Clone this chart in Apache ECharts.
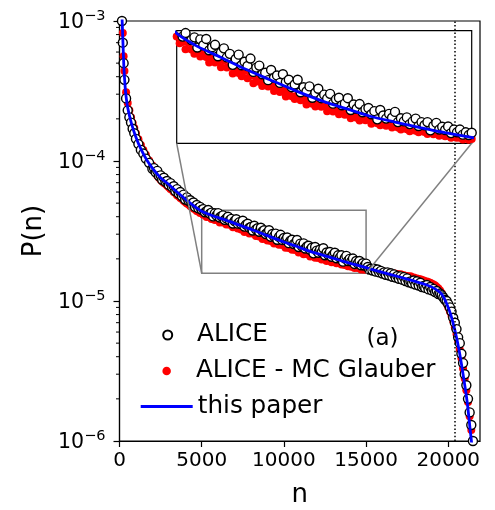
<!DOCTYPE html>
<html>
<head>
<meta charset="utf-8">
<script src="https://cdn.jsdelivr.net/npm/echarts@6/dist/echarts.min.js"></script>
<style>
html,body{margin:0;padding:0;background:#fff;}
#c{width:495px;height:510px;}
</style>
</head>
<body>
<div id="c"></div>
<script>
// ---------- data ----------
const nBins = [100,150,200,250,300,400,500,600,700,800,900,1000,1150,1300,1450,1600,1800,2000,
2100,2200,2300,2400,2500,2600,2700,2800,2900,3000,3100,3200,3300,3400,3500,3600,3700,3800,3900,4000,4100,4200,4300,4400,4500,4600,4700,4800,4900,
5000,5100,5200,5300,5400,5500,5600,5700,5800,5900,6000,6100,6200,6300,6400,6500,6600,6700,6800,6900,
7000,7100,7200,7300,7400,7500,7600,7700,7800,7900,8000,8100,8200,8300,8400,8500,8600,8700,8800,8900,
9000,9100,9200,9300,9400,9500,9600,9700,9800,9900,10000,10100,10200,10300,10400,10500,10600,10700,10800,10900,
11000,11100,11200,11300,11400,11500,11600,11700,11800,11900,12000,12100,12200,12300,12400,12500,12600,12700,12800,12900,
13000,13100,13200,13300,13400,13500,13600,13700,13800,13900,14000,14100,14200,14300,14400,14500,14600,14700,14800,14900,15000,
15100,15200,15300,15400,15500,15600,15700,15800,15900,16000,16100,16200,16300,16400,16500,16600,16700,16800,16900,17000,
17100,17200,17300,17400,17500,17600,17700,17800,17900,18000,18100,18200,18300,18400,18500,18600,18700,18800,18900,19000,
19100,19200,19300,19400,19500,19600,19700,19800,19900,20000,20100,20200,20300,20400,20500,20600,20700,20800,20900,21000,21100,21200,21300,21400,21500,21600,21700];

const aliceP = [1.5e-3,1.0e-3,7.0e-4,5.0e-4,3.8e-4,2.8e-4,2.3e-4,2.05e-4,1.88e-4,1.7e-4,1.58e-4,1.44e-4,1.32e-4,1.2e-4,1.13e-4,1.04e-4,9.7e-5,8.8e-5,
8.9e-5,8.3e-5,8.5e-5,7.8e-5,7.9e-5,7.35e-5,7.6e-5,7.1e-5,7.2e-5,6.75e-5,6.95e-5,6.5e-5,6.6e-5,6.1e-5,6.3e-5,5.85e-5,6.0e-5,5.6e-5,5.75e-5,5.3e-5,5.5e-5,5.2e-5,5.25e-5,4.95e-5,5.05e-5,4.7e-5,4.85e-5,4.6e-5,4.7e-5,
4.48e-5,4.53e-5,4.30e-5,4.39e-5,4.47e-5,4.21e-5,4.28e-5,4.02e-5,4.23e-5,4.08e-5,
4.24e-5,3.95e-5,4.03e-5,4.09e-5,3.80e-5,3.89e-5,4.00e-5,3.77e-5,3.86e-5,3.58e-5,
3.73e-5,3.84e-5,3.57e-5,3.66e-5,3.55e-5,3.74e-5,3.40e-5,3.51e-5,3.56e-5,3.34e-5,
3.38e-5,3.19e-5,3.45e-5,3.25e-5,3.31e-5,3.12e-5,3.34e-5,3.14e-5,3.20e-5,3.01e-5,
3.08e-5,3.20e-5,2.88e-5,3.01e-5,2.90e-5,3.03e-5,2.74e-5,2.87e-5,2.97e-5,2.73e-5,
2.82e-5,2.72e-5,2.84e-5,2.59e-5,2.70e-5,2.74e-5,2.55e-5,2.59e-5,2.73e-5,2.43e-5,
2.57e-5,2.46e-5,2.58e-5,2.37e-5,2.45e-5,2.48e-5,2.32e-5,2.40e-5,2.19e-5,2.43e-5,
2.29e-5,2.21e-5,2.33e-5,2.23e-5,2.38e-5,2.12e-5,2.22e-5,2.14e-5,2.24e-5,2.07e-5,
2.14e-5,2.21e-5,2.02e-5,2.12e-5,2.04e-5,2.12e-5,1.91e-5,2.02e-5,2.10e-5,1.93e-5,
2.00e-5,1.92e-5,2.01e-5,1.84e-5,1.93e-5,1.86e-5,1.93e-5,1.80e-5,1.86e-5,1.79e-5,1.85e-5,
1.75e-5,1.68e-5,1.70e-5,1.65e-5,1.70e-5,1.62e-5,1.68e-5,1.60e-5,1.64e-5,1.57e-5,
1.60e-5,1.54e-5,1.60e-5,1.52e-5,1.58e-5,1.49e-5,1.55e-5,1.47e-5,1.51e-5,1.44e-5,
1.50e-5,1.42e-5,1.48e-5,1.39e-5,1.45e-5,1.36e-5,1.38e-5,1.34e-5,1.40e-5,1.31e-5,
1.38e-5,1.29e-5,1.35e-5,1.26e-5,1.28e-5,1.24e-5,1.30e-5,1.21e-5,1.26e-5,1.19e-5,
1.22e-5,1.16e-5,1.18e-5,1.12e-5,1.13e-5,1.10e-5,1.06e-5,1.02e-5,1.00e-5,9.5e-6,9.0e-6,8.4e-6,7.6e-6,7.0e-6,6.3e-6,5.5e-6,5.0e-6,4.2e-6,3.6e-6,3.0e-6,2.5e-6,2.0e-6,1.6e-6,1.3e-6,1.0e-6,8.0e-7,6.0e-7];

const glauberP = [1.7e-3,1.12e-3,8.2e-4,5.6e-4,4.4e-4,3.1e-4,2.6e-4,2.3e-4,2.05e-4,1.87e-4,1.72e-4,1.58e-4,1.43e-4,1.3e-4,1.2e-4,1.11e-4,1.01e-4,9.3e-5,
8.5e-5,8.2e-5,7.85e-5,7.6e-5,7.35e-5,7.15e-5,6.95e-5,6.85e-5,6.65e-5,6.5e-5,6.3e-5,6.2e-5,6.0e-5,5.9e-5,5.7e-5,5.6e-5,5.45e-5,5.35e-5,5.2e-5,5.1e-5,4.98e-5,4.9e-5,4.78e-5,4.7e-5,4.57e-5,4.52e-5,4.4e-5,4.36e-5,4.25e-5,
4.30e-5,4.13e-5,4.16e-5,3.98e-5,4.14e-5,3.97e-5,3.86e-5,3.95e-5,3.79e-5,3.92e-5,
3.78e-5,3.64e-5,3.78e-5,3.64e-5,3.67e-5,3.52e-5,3.69e-5,3.51e-5,3.55e-5,3.36e-5,
3.51e-5,3.37e-5,3.29e-5,3.42e-5,3.24e-5,3.30e-5,3.11e-5,3.26e-5,3.15e-5,3.04e-5,
3.20e-5,3.03e-5,3.07e-5,2.91e-5,3.04e-5,2.89e-5,2.92e-5,2.77e-5,2.93e-5,2.78e-5,
2.71e-5,2.81e-5,2.68e-5,2.71e-5,2.57e-5,2.74e-5,2.59e-5,2.52e-5,2.62e-5,2.51e-5,
2.53e-5,2.40e-5,2.53e-5,2.39e-5,2.43e-5,2.32e-5,2.45e-5,2.31e-5,2.35e-5,2.22e-5,
2.33e-5,2.23e-5,2.16e-5,2.27e-5,2.17e-5,2.19e-5,2.08e-5,2.20e-5,2.09e-5,2.04e-5,
2.12e-5,2.03e-5,2.05e-5,1.98e-5,2.07e-5,1.98e-5,1.93e-5,2.01e-5,1.94e-5,1.89e-5,
1.97e-5,1.90e-5,1.86e-5,1.93e-5,1.87e-5,1.82e-5,1.88e-5,1.81e-5,1.83e-5,1.77e-5,
1.84e-5,1.76e-5,1.78e-5,1.72e-5,1.78e-5,1.72e-5,1.73e-5,1.68e-5,1.74e-5,1.67e-5,1.69e-5,
1.70e-5,1.68e-5,1.69e-5,1.65e-5,1.67e-5,1.64e-5,1.66e-5,1.62e-5,1.64e-5,1.61e-5,
1.62e-5,1.60e-5,1.61e-5,1.57e-5,1.59e-5,1.56e-5,1.58e-5,1.55e-5,1.56e-5,1.53e-5,
1.55e-5,1.52e-5,1.53e-5,1.50e-5,1.51e-5,1.48e-5,1.50e-5,1.47e-5,1.47e-5,1.45e-5,
1.45e-5,1.43e-5,1.43e-5,1.41e-5,1.40e-5,1.38e-5,1.38e-5,1.36e-5,1.35e-5,1.33e-5,
1.31e-5,1.29e-5,1.26e-5,1.23e-5,1.19e-5,1.14e-5,1.08e-5,1.02e-5,9.6e-6,9.0e-6,8.4e-6,7.8e-6,7.2e-6,6.5e-6,5.8e-6,5.2e-6,4.5e-6,3.9e-6,3.3e-6,2.8e-6,2.3e-6,1.9e-6,1.5e-6,1.2e-6,9.5e-7,7.5e-7,6.0e-7];

const paperN = [60,100,140,170,210,262,320,383,500,730,1000,1300,1650,2000,2500,3000,3500,4000,4500,5000,5700,6470,7300,8160,9000,9970,10800,11550,12400,13250,14100,15000,16000,17000,18000,18700,19200,19600,19900,20150,20400,20650,20900,21150,21350,21500];
const paperP = [2.5e-3,1.6e-3,1.15e-3,9.5e-4,7.0e-4,4.8e-4,3.7e-4,3.0e-4,2.4e-4,1.85e-4,1.48e-4,1.22e-4,1.02e-4,8.9e-5,7.6e-5,6.8e-5,6.0e-5,5.35e-5,4.8e-5,4.38e-5,4.05e-5,3.78e-5,3.48e-5,3.2e-5,2.93e-5,2.65e-5,2.45e-5,2.27e-5,2.12e-5,1.98e-5,1.85e-5,1.73e-5,1.6e-5,1.49e-5,1.38e-5,1.3e-5,1.22e-5,1.12e-5,9.6e-6,8.0e-6,6.2e-6,4.5e-6,3.0e-6,1.9e-6,1.15e-6,8.0e-7];

const seriesNames = ['ALICE', 'ALICE - MC Glauber', 'this paper'];
const xTicks = [0, 5000, 10000, 15000, 20000];
const xRange = [0, 21930];
const yRange = [1e-6, 1e-3];
const yMinorTicks = [2e-6,3e-6,4e-6,5e-6,6e-6,7e-6,8e-6,9e-6,2e-5,3e-5,4e-5,5e-5,6e-5,7e-5,8e-5,9e-5,2e-4,3e-4,4e-4,5e-4,6e-4,7e-4,8e-4,9e-4];
const cutoffN = 20400;
const insetX = [5000, 15000];
const insetY = [1.58e-5, 4.45e-5];
const panelLabel = '(a)';

// ---------- build ----------
const FONT = 'DejaVu Sans';
const zip = (xs, ys) => xs.map((x, i) => [x, ys[i]]);
const aliceData = zip(nBins, aliceP);
const glauberData = zip(nBins, glauberP);
const paperData = zip(paperN, paperP);

const chart = echarts.init(document.getElementById('c'), null, {renderer: 'canvas'});

const circleStyle = {color: '#ffffff', borderColor: '#000000', borderWidth: 1.4, opacity: 1};
const redStyle = {color: '#ff0000', opacity: 1};
const blueLine = {color: '#0000ff', width: 2.8};
const legendText = {fontSize: 24.7, color: '#000', fontFamily: FONT, lineHeight: 25};

const option = {
  animation: false,
  backgroundColor: '#ffffff',
  textStyle: {fontFamily: FONT, color: '#000'},
  grid: [
    {left: 119.5, top: 21, right: 15, bottom: 69, show: true, borderColor: '#000', borderWidth: 1.2,
     backgroundColor: 'transparent', containLabel: false, outerBoundsMode: 'none'},
    {left: 176.7, top: 30.7, width: 295, height: 112.6, show: true, borderColor: '#000', borderWidth: 1.2,
     backgroundColor: '#ffffff', containLabel: false, outerBoundsMode: 'none', z: 5}
  ],
  xAxis: [
    {type: 'value', gridIndex: 0, min: xRange[0], max: xRange[1], interval: 5000,
     axisLine: {show: true, lineStyle: {color: '#000', width: 1.2}},
     axisTick: {show: true, length: 6, inside: false, lineStyle: {color: '#000', width: 1.2}, customValues: xTicks},
     axisLabel: {show: true, color: '#000', fontSize: 20, fontFamily: FONT, margin: 10,
                 customValues: xTicks, formatter: v => String(v)},
     splitLine: {show: false},
     name: 'n', nameLocation: 'middle', nameGap: 41,
     nameTextStyle: {fontSize: 26, color: '#000', fontFamily: FONT}},
    {type: 'value', gridIndex: 1, min: insetX[0], max: insetX[1],
     axisLine: {show: false}, axisTick: {show: false}, axisLabel: {show: false}, splitLine: {show: false}}
  ],
  yAxis: [
    {type: 'log', logBase: 10, gridIndex: 0, min: yRange[0], max: yRange[1],
     axisLine: {show: true, lineStyle: {color: '#000', width: 1.2}},
     axisTick: {show: true, length: 6, inside: false, lineStyle: {color: '#000', width: 1.2}},
     axisLabel: {show: true, margin: 14,
       formatter: v => { const e = Math.round(Math.log10(v)); return '{b|10}{s|\u2212' + Math.abs(e) + '}'; },
       rich: {
         b: {fontSize: 20.5, color: '#000', fontFamily: FONT, verticalAlign: 'bottom', lineHeight: 25},
         s: {fontSize: 14.5, color: '#000', fontFamily: FONT, verticalAlign: 'top', lineHeight: 15}
       }},
     splitLine: {show: false}, minorTick: {show: false},
     name: 'P(n)', nameLocation: 'middle', nameGap: 71, nameRotate: 90,
     nameTextStyle: {fontSize: 26, color: '#000', fontFamily: FONT}},
    {type: 'value', gridIndex: 1, min: insetY[0], max: insetY[1],
     axisLine: {show: false}, axisTick: {show: false}, axisLabel: {show: false}, splitLine: {show: false}}
  ],
  legend: [
    {data: [seriesNames[0]], left: 157.2, top: 317.5, padding: 5, itemWidth: 48.6, itemHeight: 9,
     textStyle: legendText, selectedMode: false},
    {data: [seriesNames[1]], left: 157.4, top: 353.5, padding: 5, itemWidth: 48.6, itemHeight: 8.5,
     textStyle: legendText, selectedMode: false},
    {data: [{name: seriesNames[2], icon: 'rect'}], left: 135.7, top: 389, padding: 5, itemWidth: 52, itemHeight: 2.8,
     symbolKeepAspect: false, textStyle: legendText, selectedMode: false}
  ],
  series: [
    // main panel
    {name: seriesNames[1], type: 'scatter', xAxisIndex: 0, yAxisIndex: 0, data: glauberData,
     symbol: 'circle', symbolSize: 8, itemStyle: redStyle, z: 2},
    {name: seriesNames[0], type: 'scatter', xAxisIndex: 0, yAxisIndex: 0, data: aliceData,
     symbol: 'circle', symbolSize: 9, itemStyle: circleStyle, z: 3},
    {name: seriesNames[2], type: 'line', xAxisIndex: 0, yAxisIndex: 0, data: paperData,
     showSymbol: false, symbol: 'none', smooth: 0.25, lineStyle: blueLine, itemStyle: {color: '#0000ff'}, z: 4,
     markLine: {silent: true, symbol: ['none', 'none'], label: {show: false},
       lineStyle: {color: '#000', width: 1.5, type: [1.5, 2.2]}, data: [{xAxis: cutoffN}]}},
    // minor ticks of the log axis
    {type: 'custom', xAxisIndex: 0, yAxisIndex: 0, silent: true, clip: false, z: 4,
     data: yMinorTicks.map(v => [xRange[0], v]),
     renderItem: (params, api) => {
       const p = api.coord([api.value(0), api.value(1)]);
       return {type: 'line', shape: {x1: p[0] - 3.5, y1: p[1], x2: p[0], y2: p[1]},
               style: {stroke: '#000', lineWidth: 1}};
     }},
    // inset panel
    {name: seriesNames[1], type: 'scatter', xAxisIndex: 1, yAxisIndex: 1, data: glauberData,
     symbol: 'circle', symbolSize: 8, itemStyle: redStyle, z: 6},
    {name: seriesNames[0], type: 'scatter', xAxisIndex: 1, yAxisIndex: 1, data: aliceData,
     symbol: 'circle', symbolSize: 9, itemStyle: circleStyle, z: 7},
    {name: seriesNames[2], type: 'line', xAxisIndex: 1, yAxisIndex: 1, data: paperData,
     showSymbol: false, symbol: 'none', smooth: 0.25, lineStyle: blueLine, itemStyle: {color: '#0000ff'}, z: 8}
  ]
};
chart.setOption(option);

// zoom rectangle + connectors, placed through the axes' own scales
const px = (gi, v) => chart.convertToPixel({xAxisIndex: gi, yAxisIndex: gi}, v);
const mBL = px(0, [insetX[0], insetY[0]]);
const mTR = px(0, [insetX[1], insetY[1]]);
const mBR = px(0, [insetX[1], insetY[0]]);
const iBL = px(1, [insetX[0], insetY[0]]);
const iBR = px(1, [insetX[1], insetY[0]]);
const gray = '#808080';
chart.setOption({
  graphic: [
    {type: 'rect', z: 1, silent: true,
     shape: {x: mBL[0], y: mTR[1], width: mTR[0] - mBL[0], height: mBL[1] - mTR[1]},
     style: {fill: null, stroke: gray, lineWidth: 1.5}},
    {type: 'line', z: 10, silent: true, shape: {x1: iBL[0], y1: iBL[1], x2: mBL[0], y2: mBL[1]},
     style: {stroke: gray, lineWidth: 1.5}},
    {type: 'line', z: 10, silent: true, shape: {x1: iBR[0], y1: iBR[1], x2: mBR[0], y2: mBR[1]},
     style: {stroke: gray, lineWidth: 1.5}},
    {type: 'text', z: 10, silent: true, left: 366.5, top: 328,
     style: {text: panelLabel, font: '23px "DejaVu Sans"', fill: '#000'}}
  ]
});
</script>
</body>
</html>
